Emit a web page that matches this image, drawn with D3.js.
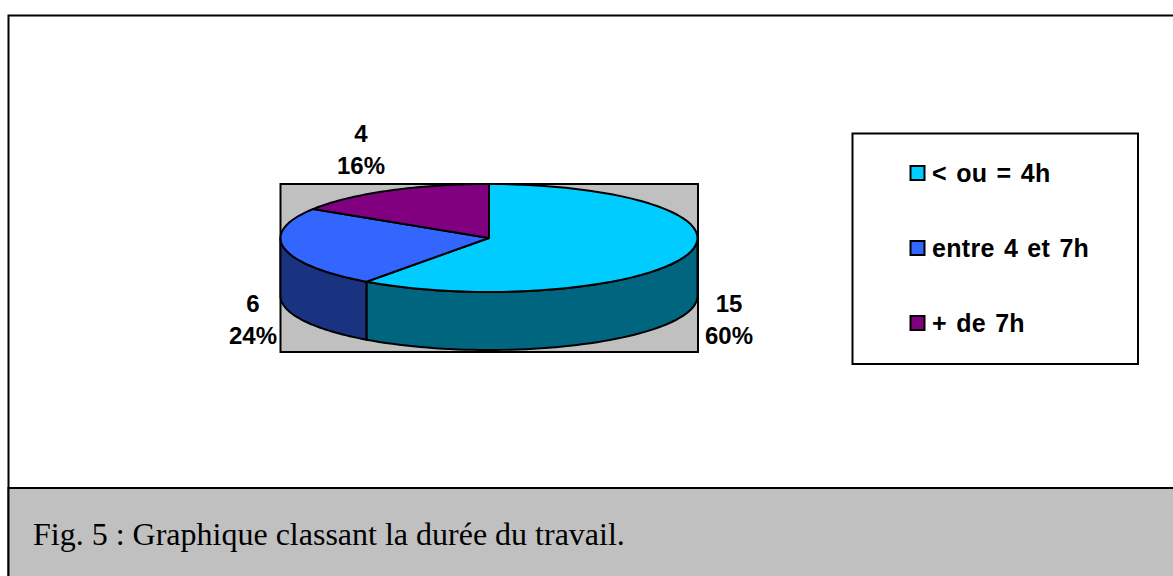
<!DOCTYPE html>
<html><head><meta charset="utf-8">
<script src="https://cdn.jsdelivr.net/npm/d3@7"></script>
<style>html,body{margin:0;padding:0;background:#fff;overflow:hidden}svg{display:block}</style>
</head><body><svg id="c" width="1173" height="576"></svg>
<script>
const categories = ["< ou = 4h", "entre 4 et 7h", "+ de 7h"];
const values = [15, 6, 4];
const percentLabels = ["60%", "24%", "16%"];
const topColors = ["#00CCFF", "#3366FF", "#800080"];
const sideColors = ["#006680", "#1A3380", "#400040"];
const caption = "Fig. 5 : Graphique classant la durée du travail.";

const svg = d3.select("#c");
const cx = 489, cy = 238, rx = 208.5, ry = 54, depth = 58;
const sans = "'Liberation Sans', Arial, sans-serif";
const sw = 2;

svg.append("rect").attr("x", 8.5).attr("y", 15.5).attr("width", 1175).attr("height", 580)
  .attr("fill", "#fff").attr("stroke", "#000").attr("stroke-width", sw);
svg.append("rect").attr("x", 8.5).attr("y", 488).attr("width", 1175).attr("height", 100)
  .attr("fill", "#C0C0C0").attr("stroke", "#000").attr("stroke-width", sw);
svg.append("text").attr("x", 33).attr("y", 545).attr("font-family", "'Liberation Serif', 'Times New Roman', serif")
  .attr("font-size", 32).attr("fill", "#000").text(caption);

svg.append("rect").attr("x", 280.5).attr("y", 184).attr("width", 417.5).attr("height", 168)
  .attr("fill", "#C0C0C0").attr("stroke", "#000").attr("stroke-width", sw);

const pie = d3.pie().sort(null).startAngle(0).endAngle(2 * Math.PI)(values);
const px = a => cx + rx * Math.sin(a), py = a => cy - ry * Math.cos(a);
const samples = (a0, a1) => d3.range(0, 61).map(i => a0 + (a1 - a0) * i / 60);
const line = d3.line();

// front wall of the disc: only the part of each slice between 90 and 270 degrees
pie.forEach((d, i) => {
  const a0 = Math.max(d.startAngle, Math.PI / 2), a1 = Math.min(d.endAngle, 3 * Math.PI / 2);
  if (a1 <= a0) return;
  const s = samples(a0, a1);
  const pts = s.map(a => [px(a), py(a)]).concat(s.slice().reverse().map(a => [px(a), py(a) + depth]));
  svg.append("path").attr("d", line(pts) + "Z").attr("fill", sideColors[i])
    .attr("stroke", "#000").attr("stroke-width", sw).attr("stroke-linejoin", "round");
});
// top face of every slice
pie.forEach((d, i) => {
  const pts = [[cx, cy]].concat(samples(d.startAngle, d.endAngle).map(a => [px(a), py(a)]));
  svg.append("path").attr("d", line(pts) + "Z").attr("fill", topColors[i])
    .attr("stroke", "#000").attr("stroke-width", sw).attr("stroke-linejoin", "round");
});

const dataLabelPos = [[729, 344], [253, 344], [361, 174]];
values.forEach((v, i) => {
  const t = svg.append("text").attr("text-anchor", "middle").attr("font-family", sans)
    .attr("font-weight", "bold").attr("font-size", 24).attr("fill", "#000");
  t.append("tspan").attr("x", dataLabelPos[i][0]).attr("y", dataLabelPos[i][1] - 32).text(v);
  t.append("tspan").attr("x", dataLabelPos[i][0]).attr("y", dataLabelPos[i][1]).text(percentLabels[i]);
});

svg.append("rect").attr("x", 852.5).attr("y", 133.5).attr("width", 285.5).attr("height", 230.5)
  .attr("fill", "#fff").attr("stroke", "#000").attr("stroke-width", sw);
const legendY = d3.scalePoint().domain(categories).range([173, 323]);
categories.forEach((c, i) => {
  const y = legendY(c);
  svg.append("rect").attr("x", 910.5).attr("y", y - 7).attr("width", 14).attr("height", 14)
    .attr("fill", topColors[i]).attr("stroke", "#000").attr("stroke-width", sw);
  svg.append("text").attr("x", 932).attr("y", y + 9).attr("font-family", sans).attr("font-weight", "bold")
    .attr("font-size", 25).attr("letter-spacing", 0.3).attr("word-spacing", 2).attr("fill", "#000").text(c);
});
</script></body></html>
